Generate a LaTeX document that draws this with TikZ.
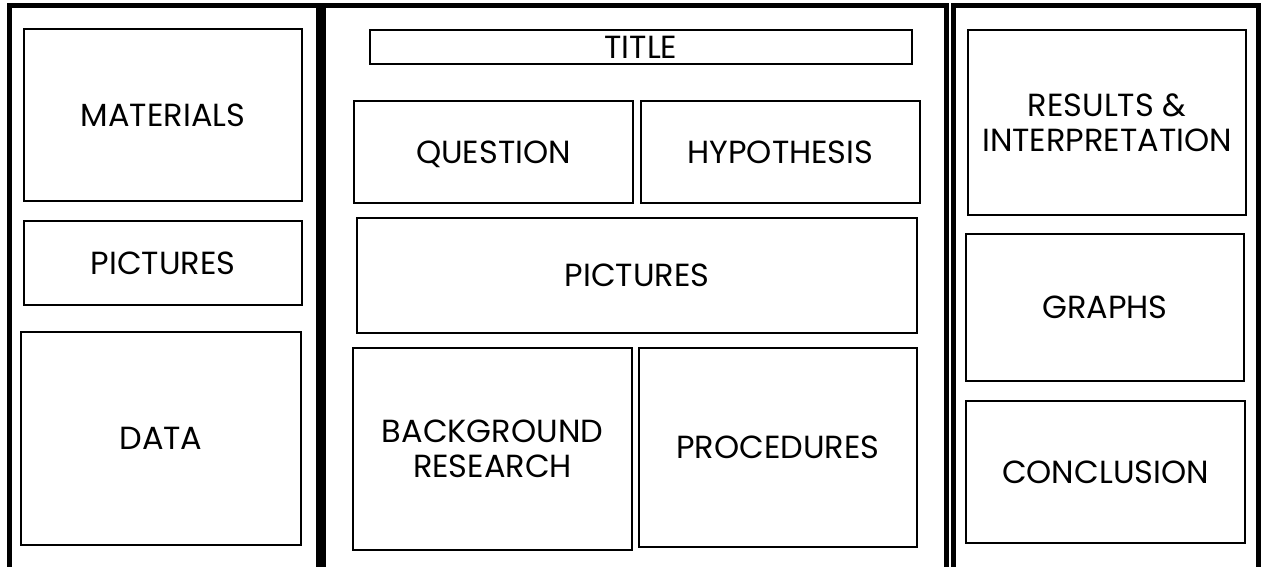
\documentclass[tikz,border=0pt]{standalone}
\usepackage{fontspec}
\setmainfont{Poppins}
\usepackage{tikz}
\usepackage{xcolor}
\tikzstyle{every node}=[font=\fontsize{32}{35}\selectfont]
\tikzstyle{panel} = [draw, line width=5pt]
\tikzstyle{box} = [rectangle, draw, line width=2.2pt, text centered, align=center, inner sep=0pt]

\begin{document}
\begin{tikzpicture}[x=1pt, y=-1pt]
    \useasboundingbox (0,0) rectangle (1263,567);
    \clip (0,0) rectangle (1263,567);
    % Panels
    \draw [panel] (9.5,600) |- (318,6) -- (318,600);
    \draw [panel] (323.5,600) |- (946.5,6) -- (946.5,600);
    \draw [panel] (953,600) |- (1258.5,6) -- (1258.5,600);
    % Left panel
    \node [box, minimum width=278pt, minimum height=172pt] (materials) at (163,115) {MATERIALS};
    \node [box, minimum width=278pt, minimum height=84pt] (picsleft) at (163,263) {PICTURES};
    \node [box, minimum width=280pt, minimum height=213pt] (data) at (161,438.5) {DATA};
    % Middle panel
    \node [box, minimum width=542pt, minimum height=34pt] (title) at (641,47) {TITLE};
    \node [box, minimum width=279pt, minimum height=102pt, text depth=0pt] (question) at (493.5,152) {QUESTION};
    \node [box, minimum width=279pt, minimum height=102pt] (hypothesis) at (780.5,152) {HYPOTHESIS};
    \node [box, minimum width=560pt, minimum height=115pt] (picsmid) at (637,275.5) {PICTURES};
    \node [box, minimum width=279pt, minimum height=202pt] (background) at (492.5,449) {BACKGROUND\\RESEARCH};
    \node [box, minimum width=278pt, minimum height=199pt] (procedures) at (778,447.5) {PROCEDURES};
    % Right panel
    \node [box, minimum width=278pt, minimum height=185pt] (results) at (1107,122.5) {RESULTS \&\\INTERPRETATION};
    \node [box, minimum width=278pt, minimum height=147pt] (graphs) at (1105,307.5) {GRAPHS};
    \node [box, minimum width=279pt, minimum height=142pt] (conclusion) at (1105.5,472) {CONCLUSION};
\end{tikzpicture}
\end{document}
